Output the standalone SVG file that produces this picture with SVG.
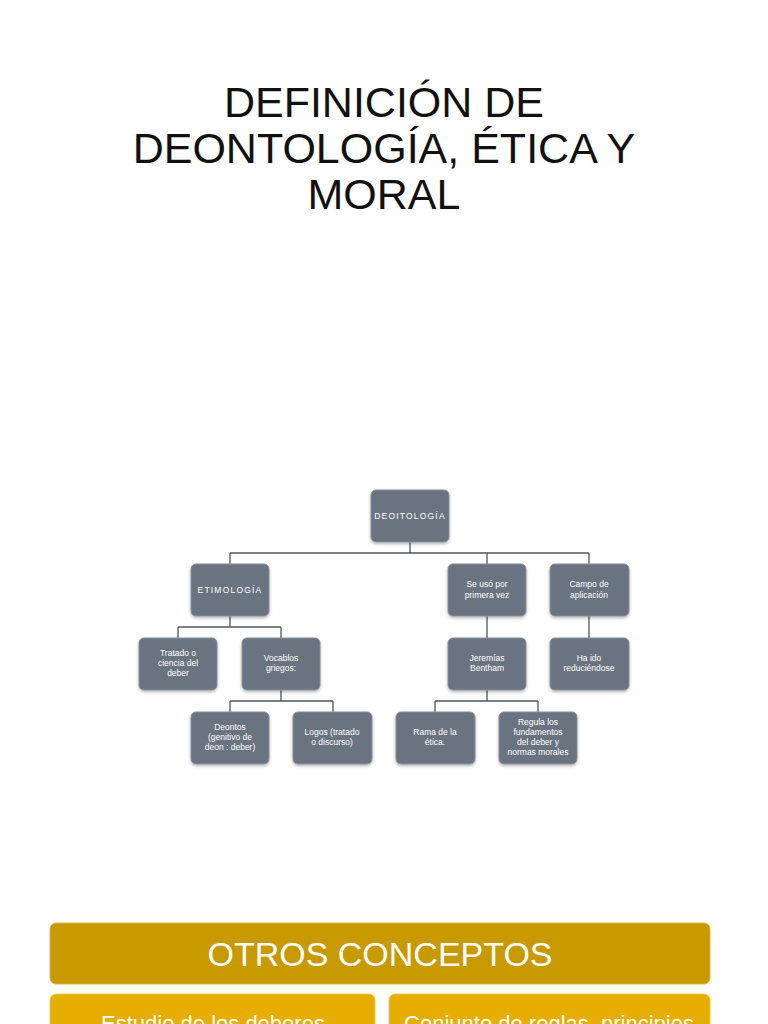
<svg xmlns="http://www.w3.org/2000/svg" width="768" height="1024" viewBox="0 0 768 1024">
<defs>
<filter id="sh" x="-20%" y="-20%" width="140%" height="150%">
<feDropShadow dx="0" dy="1.5" stdDeviation="1.5" flood-color="#000" flood-opacity="0.3"/>
</filter>
<style>
.title{font-family:"Liberation Sans",Arial,sans-serif;font-size:43px;fill:#111;text-anchor:middle}
.node rect{fill:#6b7380;stroke:#8a919b;stroke-width:1;filter:url(#sh)}
.node text{font-family:"Liberation Sans",Arial,sans-serif;font-size:8.5px;fill:#fff;text-anchor:middle}
.cap{letter-spacing:1.2px;font-size:7.5px}
#connectors path{fill:none;stroke:#4f5662;stroke-width:1.3}
.band{font-family:"Liberation Sans",Arial,sans-serif;fill:#fff;text-anchor:middle}
</style>
</defs>
<rect width="768" height="1024" fill="#fff"/>
<g id="title">
<text class="title" x="384" y="117">DEFINICIÓN DE</text>
<text class="title" x="384" y="163">DEONTOLOGÍA, ÉTICA Y</text>
<text class="title" x="384" y="209">MORAL</text>
</g>
<g id="connectors">
<path d="M410 542V553M230 553H589M230 553V564M487 553V564M589 553V564"/>
<path d="M230 616V627M178 627H281M178 627V638M281 627V638"/>
<path d="M281 690V701M230 701H333M230 701V712M333 701V712"/>
<path d="M487 616V638M589 616V638"/>
<path d="M487 690V701M435 701H538M435 701V712M538 701V712"/>
</g>
<g id="n-deontologia" class="node"><rect x="371" y="490" width="78" height="52" rx="5"/><text class="cap" x="410" y="519">DEOITOLOGÍA</text></g>
<g id="n-etimologia" class="node"><rect x="191" y="564" width="78" height="52" rx="5"/><text class="cap" x="230" y="593">ETIMOLOGÍA</text></g>
<g id="n-seuso" class="node"><rect x="448" y="564" width="78" height="52" rx="5"/><text x="487" y="587">Se usó por</text><text x="487" y="598">primera vez</text></g>
<g id="n-campo" class="node"><rect x="550" y="564" width="79" height="52" rx="5"/><text x="589" y="587">Campo de</text><text x="589" y="598">aplicación</text></g>
<g id="n-tratado" class="node"><rect x="139" y="638" width="78" height="52" rx="5"/><text x="178" y="656">Tratado o</text><text x="178" y="666">ciencia del</text><text x="178" y="676">deber</text></g>
<g id="n-vocablos" class="node"><rect x="242" y="638" width="78" height="52" rx="5"/><text x="281" y="661">Vocablos</text><text x="281" y="671">griegos:</text></g>
<g id="n-jeremias" class="node"><rect x="448" y="638" width="78" height="52" rx="5"/><text x="487" y="661">Jeremías</text><text x="487" y="671">Bentham</text></g>
<g id="n-haido" class="node"><rect x="550" y="638" width="79" height="52" rx="5"/><text x="589" y="661">Ha ido</text><text x="589" y="671">reduciéndose</text></g>
<g id="n-deontos" class="node"><rect x="191" y="712" width="78" height="52" rx="5"/><text x="230" y="730">Deontos</text><text x="230" y="740">(genitivo de</text><text x="230" y="750">deon : deber)</text></g>
<g id="n-logos" class="node"><rect x="293" y="712" width="79" height="52" rx="5"/><text x="332" y="735">Logos (tratado</text><text x="332" y="745">o discurso)</text></g>
<g id="n-rama" class="node"><rect x="396" y="712" width="79" height="52" rx="5"/><text x="435" y="735">Rama de la</text><text x="435" y="745">ética.</text></g>
<g id="n-regula" class="node"><rect x="499" y="712" width="78" height="52" rx="5"/><text x="538" y="725">Regula los</text><text x="538" y="735">fundamentos</text><text x="538" y="745">del deber y</text><text x="538" y="755">normas morales</text></g>
<g id="otros">
<rect x="50" y="923" width="660" height="61" rx="6" fill="#c89a00" stroke="#d9b540" stroke-width="1"/>
<text class="band" x="380" y="966" font-size="34">OTROS CONCEPTOS</text>
</g>
<g id="estudio">
<rect x="50" y="994" width="325" height="50" rx="6" fill="#e6ae00" stroke="#f0c94d" stroke-width="1"/>
<text class="band" x="213" y="1031" font-size="22">Estudio de los deberes</text>
</g>
<g id="conjunto">
<rect x="389" y="994" width="321" height="50" rx="6" fill="#e6ae00" stroke="#f0c94d" stroke-width="1"/>
<text class="band" x="549" y="1031" font-size="22">Conjunto de reglas, principios</text>
</g>
</svg>
